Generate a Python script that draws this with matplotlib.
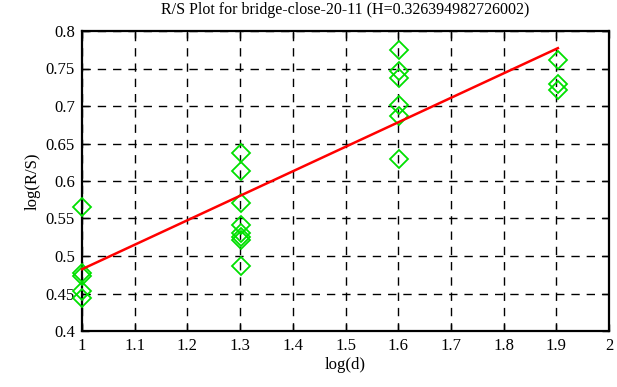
import numpy as np
import matplotlib
matplotlib.use("Agg")
import matplotlib.pyplot as plt

# log10 of window size d, and log(R/S)
log_d = [1.0, 1.0, 1.0, 1.0, 1.0,
         1.301, 1.301, 1.301, 1.301, 1.301, 1.301, 1.301, 1.301,
         1.602, 1.602, 1.602, 1.602, 1.602, 1.602,
         1.903, 1.903, 1.903]
log_rs = [0.565, 0.477, 0.474, 0.454, 0.444,
          0.638, 0.614, 0.571, 0.541, 0.531, 0.526, 0.521, 0.487,
          0.775, 0.747, 0.737, 0.701, 0.687, 0.630,
          0.762, 0.729, 0.721]

H = 0.326394982726002
intercept = 0.156   # value of the fit at log(d) = 0
title = "R/S Plot for bridge-close-20-11 (H=0.326394982726002)"

xticks = [1, 1.1, 1.2, 1.3, 1.4, 1.5, 1.6, 1.7, 1.8, 1.9, 2]
yticks = [0.4, 0.45, 0.5, 0.55, 0.6, 0.65, 0.7, 0.75, 0.8]

plt.rcParams['font.family'] = ['Liberation Serif', 'DejaVu Serif']
plt.rcParams['font.size'] = 12

fig = plt.figure(figsize=(6.17, 3.87), dpi=100)
ax = fig.add_axes([82/617, 1-331/387, (609-82)/617, (331-31)/387])

ax.plot(log_d, log_rs, linestyle='none', marker='D', markersize=9.5,
        markerfacecolor='none', markeredgecolor='#00e000', markeredgewidth=1.3,
        zorder=3, clip_on=False)

fx = np.array([min(log_d), max(log_d)])
ax.plot(fx, intercept + H * fx, color='red', linewidth=1.8, zorder=4,
        clip_on=False)

ax.set_xlim(1, 2)
ax.set_ylim(0.4, 0.8)
ax.set_xticks(xticks)
ax.set_yticks(yticks)
ax.set_xticklabels([('%g' % t) for t in xticks])
ax.set_yticklabels([('%g' % t) for t in yticks])
ax.grid(True, color='black', linestyle=(0, (6, 5)), linewidth=1)
ax.tick_params(direction='in', top=True, right=True, length=5, width=1, pad=5)
for s in ax.spines.values():
    s.set_linewidth(1.6)
    s.set_zorder(2.5)

ax.set_title(title, fontsize=11.5, pad=12)
ax.set_xlabel("log(d)", labelpad=2)
ax.set_ylabel("log(R/S)", labelpad=4)

fig.savefig("out.png", dpi=100)
